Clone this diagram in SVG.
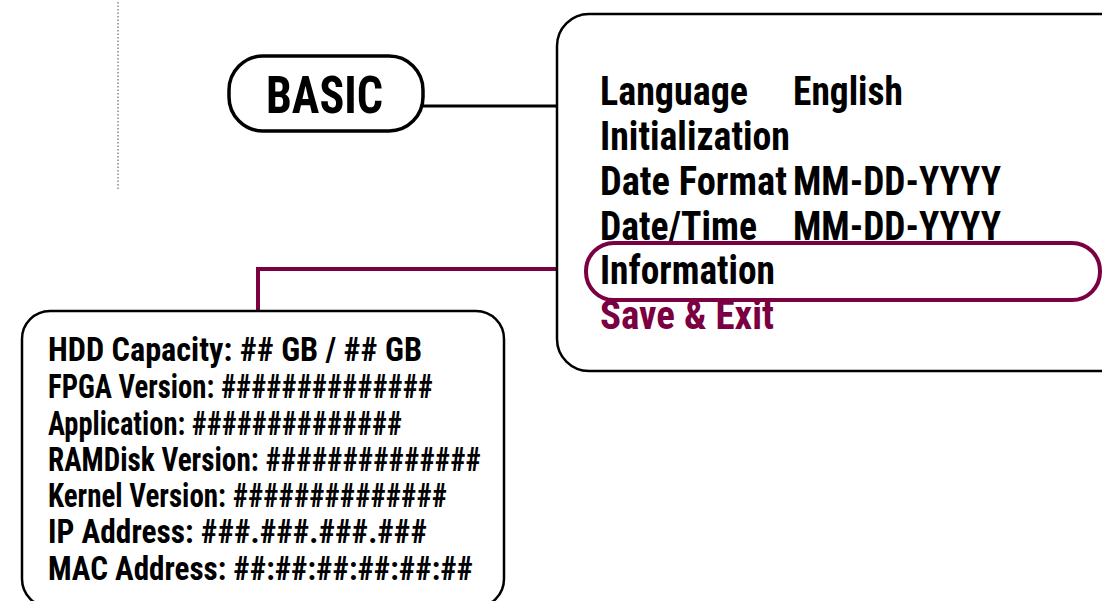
<svg xmlns="http://www.w3.org/2000/svg" width="1102" height="601" viewBox="0 0 1102 601">
<style>
.t{font-family:"Liberation Sans Narrow","Roboto Condensed","Liberation Sans",Arial,sans-serif;font-weight:bold;fill:#000}
.m{font-size:41px}
.i{font-size:33px}
.mar{fill:#7b0041}
.box{fill:#fff;stroke:#000;stroke-width:2.5}
</style>
<rect width="1102" height="601" fill="#fff"/>
<line x1="118" y1="2" x2="118" y2="190" stroke="#888" stroke-width="1.5" stroke-dasharray="1.5,2"/>
<g id="connectors" fill="none">
<line x1="423" y1="106" x2="557" y2="106" stroke="#000" stroke-width="3"/>
<polyline points="557,269 258,269 258,311" stroke="#7b0041" stroke-width="4"/>
</g>
<g id="basic">
<rect x="229" y="56" width="194" height="75" rx="34" ry="34" fill="#fff" stroke="#000" stroke-width="3.5"/>
<text class="t" x="266" y="113" font-size="52" textLength="117" lengthAdjust="spacingAndGlyphs">BASIC</text>
</g>
<g id="menu">
<rect class="box" x="557" y="14" width="600" height="357" rx="32" ry="32"/>
<text class="t m" x="600" y="105" textLength="148" lengthAdjust="spacingAndGlyphs">Language</text>
<text class="t m" x="793" y="105" textLength="110" lengthAdjust="spacingAndGlyphs">English</text>
<text class="t m" x="600" y="150" textLength="190" lengthAdjust="spacingAndGlyphs">Initialization</text>
<text class="t m" x="600" y="195" textLength="187" lengthAdjust="spacingAndGlyphs">Date Format</text>
<text class="t m" x="793" y="195" textLength="208" lengthAdjust="spacingAndGlyphs">MM-DD-YYYY</text>
<text class="t m" x="600" y="240" textLength="157" lengthAdjust="spacingAndGlyphs">Date/Time</text>
<text class="t m" x="793" y="240" textLength="208" lengthAdjust="spacingAndGlyphs">MM-DD-YYYY</text>
<text class="t m" x="600" y="284" textLength="175" lengthAdjust="spacingAndGlyphs">Information</text>
<text class="t m mar" x="600" y="329" textLength="174" lengthAdjust="spacingAndGlyphs">Save &amp; Exit</text>
</g>
<g id="information-highlight">
<rect x="586" y="243" width="514" height="57" rx="28" ry="28" fill="none" stroke="#7b0041" stroke-width="4"/>
</g>
<g id="info">
<rect class="box" x="22" y="311" width="482" height="296" rx="28" ry="28"/>
<text class="t i" x="48" y="361" textLength="374" lengthAdjust="spacingAndGlyphs">HDD Capacity: ## GB / ## GB</text>
<text class="t i" x="48" y="398" textLength="385" lengthAdjust="spacingAndGlyphs">FPGA Version: ##############</text>
<text class="t i" x="48" y="435" textLength="354" lengthAdjust="spacingAndGlyphs">Application: ##############</text>
<text class="t i" x="48" y="471" textLength="433" lengthAdjust="spacingAndGlyphs">RAMDisk Version: ##############</text>
<text class="t i" x="48" y="507" textLength="399" lengthAdjust="spacingAndGlyphs">Kernel Version: ##############</text>
<text class="t i" x="48" y="543" textLength="379" lengthAdjust="spacingAndGlyphs">IP Address: ###.###.###.###</text>
<text class="t i" x="48" y="580" textLength="425" lengthAdjust="spacingAndGlyphs">MAC Address: ##:##:##:##:##:##</text>
</g>
</svg>
